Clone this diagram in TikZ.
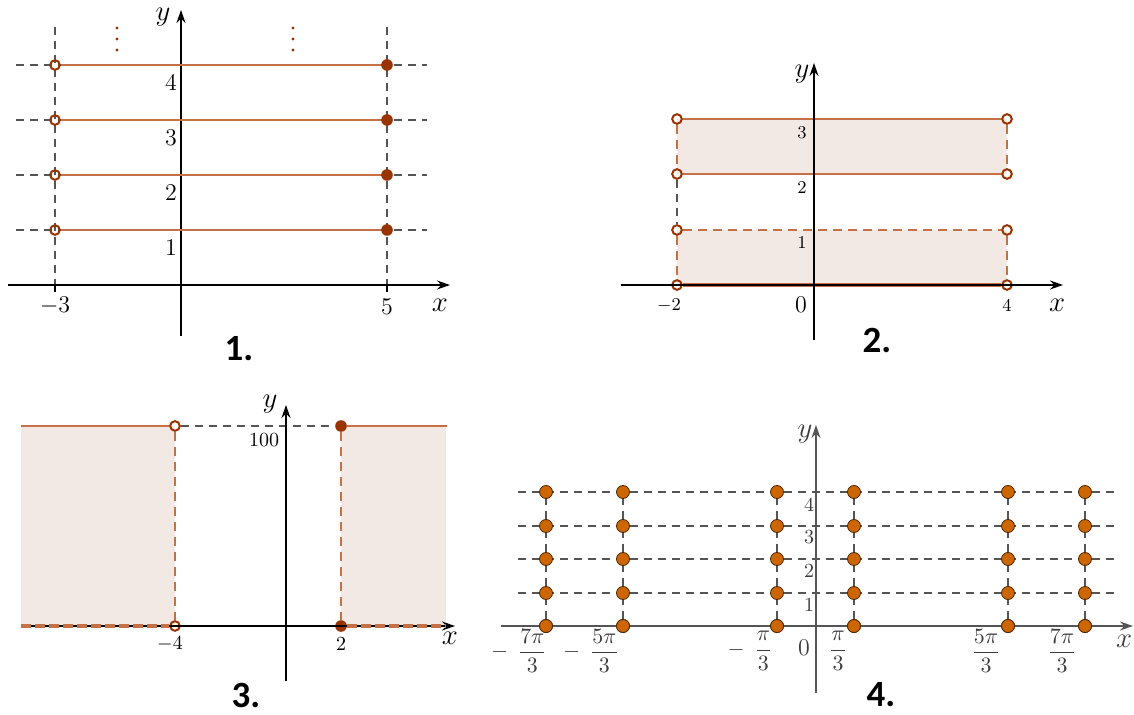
\documentclass[tikz,border=0pt]{standalone}
\usepackage{amsmath}
\usepackage{fontspec}
\newfontfamily\carl{Carlito}
\usetikzlibrary{arrows.meta}
\definecolor{segc}{RGB}{198,112,72}
\definecolor{dotc}{RGB}{153,51,0}
\definecolor{fillc}{RGB}{243,233,228}
\definecolor{orc}{RGB}{204,102,0}
\definecolor{orline}{RGB}{80,36,0}
\definecolor{gridc}{RGB}{85,85,85}
\definecolor{axg}{RGB}{85,85,85}
\definecolor{labg}{RGB}{60,60,60}
\tikzset{
  axis/.style={line width=0.75pt,-{Stealth[length=6.5pt,width=4.5pt]}},
  guide/.style={gridc,line width=0.6pt,dash pattern=on 4pt off 3pt},
  seg/.style={segc,line width=1.2pt},
  segdash/.style={segc,line width=1.1pt,dash pattern=on 4.5pt off 3pt},
  segthick/.style={segc,line width=1.6pt,dash pattern=on 5pt off 2pt},
  odot/.style={circle,draw=dotc,line width=1pt,minimum size=4.8pt,inner sep=0pt},
  fdot/.style={circle,fill=dotc,minimum size=5.8pt,inner sep=0pt},
  gdot/.style={circle,fill=orc,draw=orline,line width=0.4pt,minimum size=6.5pt,inner sep=0pt},
  lab/.style={inner sep=0pt,font=\fontsize{12}{14}\selectfont},
  slab/.style={inner sep=0pt,font=\fontsize{9.5}{11}\selectfont},
  glab/.style={inner sep=0pt,text=labg,font=\fontsize{10}{12}\selectfont},
  flab/.style={inner sep=0pt,text=labg,font=\fontsize{10.5}{12}\selectfont},
  axlab/.style={inner sep=0pt,font=\fontsize{14}{16}\selectfont},
  zlab/.style={inner sep=0pt,font=\fontsize{13}{15}\selectfont},
  title/.style={inner sep=0pt,font=\fontsize{18.5}{20}\selectfont\carl\bfseries},
}
\begin{document}
\begin{tikzpicture}[x=0.5pt,y=-0.5pt]
\useasboundingbox (0,0) rectangle (1134,715);
\fill[white] (0,0) rectangle (1134,715);

% ---------------- Panel 1 ----------------
\foreach \yy in {65,120,175,230} {\draw[guide] (16,\yy) -- (427,\yy);}
\draw[guide] (55,27) -- (55,285);
\draw[guide] (387,27) -- (387,285);
\draw[line width=0.75pt] (55,285) -- (55,292);
\draw[line width=0.75pt] (387,285) -- (387,292);
\draw[axis] (8,285) -- (450,285);
\draw[axis] (181,336) -- (181,10);
\foreach \i/\yy in {1/230,2/175,3/120,4/65} {
  \node[odot] (pa\i) at (55,\yy) {};
  \node[fdot] (pb\i) at (387,\yy) {};
  \draw[seg] (pa\i) -- (pb\i);
}
\foreach \xx in {117,293} {
  \foreach \yy in {28,39,50} {\fill[dotc] (\xx,\yy) circle (1.6);}
}
\node[lab] (t1a) at (171,248) {$1$};
\node[lab] (t1b) at (171,193) {$2$};
\node[lab] (t1c) at (171,138) {$3$};
\node[lab] (t1d) at (171,83) {$4$};
\node[lab] (t1m3) at (55,306) {$-3$};
\node[lab] (t1p5) at (387,307) {$5$};
\node[axlab] (t1x) at (440,305) {$x$};
\node[axlab] (t1y) at (163,17) {$y$};
\node[title] (n1) at (239,349) {1.};

% ---------------- Panel 2 ----------------
\fill[fillc] (677,119) rectangle (1007,174);
\fill[fillc] (677,230) rectangle (1007,285);
\node[odot] (c1) at (677,119) {};
\node[odot] (c2) at (1007,119) {};
\node[odot] (c3) at (677,174) {};
\node[odot] (c4) at (1007,174) {};
\node[odot] (c5) at (677,230) {};
\node[odot] (c6) at (1007,230) {};
\node[odot] (c7) at (677,285) {};
\node[odot] (c8) at (1007,285) {};
\draw[seg] (c1) -- (c2);
\draw[seg] (c3) -- (c4);
\draw[segc,line width=1.6pt] (c7) -- (c8);
\draw[segdash] (c5) -- (c6);
\draw[segdash] (c1) -- (c3);
\draw[segdash] (c2) -- (c4);
\draw[segdash] (c5) -- (c7);
\draw[segdash] (c6) -- (c8);
\draw[guide] (c3) -- (c5);
\draw[axis] (621,285) -- (1063,285);
\draw[axis] (814,340) -- (814,63);
\node[slab] (t2c) at (802,133) {$3$};
\node[slab] (t2b) at (802,188) {$2$};
\node[slab] (t2a) at (802,243) {$1$};
\node[zlab] (t2o) at (801,305) {$0$};
\node[slab] (t2m2) at (669,306) {$-2$};
\node[slab] (t2p4) at (1007,306) {$4$};
\node[axlab] (t2x) at (1057,305) {$x$};
\node[axlab] (t2y) at (802,74) {$y$};
\node[title] (n2) at (877,340) {2.};

% ---------------- Panel 3 ----------------
\fill[fillc] (21,426) rectangle (175,626);
\fill[fillc] (341,426) rectangle (446,626);
\coordinate (q1) at (21,426);
\coordinate (q2) at (447,426);
\coordinate (q3) at (21,626);
\coordinate (q4) at (446,626);
\node[odot] (d1) at (175,426) {};
\node[odot] (d2) at (175,626) {};
\node[fdot] (d3) at (341,426) {};
\node[fdot] (d4) at (341,626) {};
\draw[seg] (q1) -- (d1);
\draw[seg] (d3) -- (q2);
\draw[guide] (d1) -- (d3);
\draw[segdash] (d1) -- (d2);
\draw[segdash] (d3) -- (d4);
\draw[axis] (21,626) -- (455,626);
\draw[axis] (286,681) -- (286,405);
\draw[segthick] (q3) -- (d2);
\draw[segthick] (d4) -- (q4);
\node[slab,font=\fontsize{10}{12}\selectfont] (t3h) at (264,440) {$100$};
\node[slab,font=\fontsize{10}{12}\selectfont] (t3m4) at (170,644) {$-4$};
\node[slab,font=\fontsize{10}{12}\selectfont] (t3p2) at (341,644) {$2$};
\node[axlab] (t3x) at (450,638) {$x$};
\node[axlab] (t3y) at (270,404) {$y$};
\node[title] (n3) at (246,695) {3.};

% ---------------- Panel 4 ----------------
\foreach \yy in {593,559,526,492} {\draw[guide] (518,\yy) -- (1114,\yy);}
\foreach \k/\xx in {a/546,b/623,c/777,d/854,e/1008,f/1085} {
  \foreach \j/\yy in {0/626,1/593,2/559,3/526,4/492} {
    \node[gdot] (g\k\j) at (\xx,\yy) {};
  }
  \draw[guide] (g\k0) -- (g\k1);
  \draw[guide] (g\k1) -- (g\k2);
  \draw[guide] (g\k2) -- (g\k3);
  \draw[guide] (g\k3) -- (g\k4);
}
\draw[axis,axg] (501,626) -- (1133,626);
\draw[axis,axg] (816,693) -- (816,425);
\foreach \k/\xx in {a/546,b/623,c/777,d/854,e/1008,f/1085} {
  \node[gdot] (h\k) at (\xx,626) {};
}
\node[glab] (t4a) at (809,605) {$1$};
\node[glab] (t4b) at (809,571.5) {$2$};
\node[glab] (t4c) at (809,537.5) {$3$};
\node[glab] (t4d) at (809,505) {$4$};
\node[zlab,text=labg,font=\fontsize{12.5}{14}\selectfont] (t4o) at (804,648) {$0$};
\node[axlab,text=labg] (t4x) at (1124,641) {$x$};
\node[axlab,text=labg] (t4y) at (805,434) {$y$};
\node[flab] (f1) at (519,651) {$-\;\,\dfrac{7\pi}{3}$};
\node[flab] (f2) at (591,651) {$-\;\,\dfrac{5\pi}{3}$};
\node[flab] (f3) at (750,651) {$-\;\,\dfrac{\pi}{3}$};
\node[flab] (f4) at (838,651) {$\dfrac{\pi}{3}$};
\node[flab] (f5) at (986,651) {$\dfrac{5\pi}{3}$};
\node[flab] (f6) at (1062,651) {$\dfrac{7\pi}{3}$};
\node[title] (n4) at (881,695) {4.};
\end{tikzpicture}
\end{document}
